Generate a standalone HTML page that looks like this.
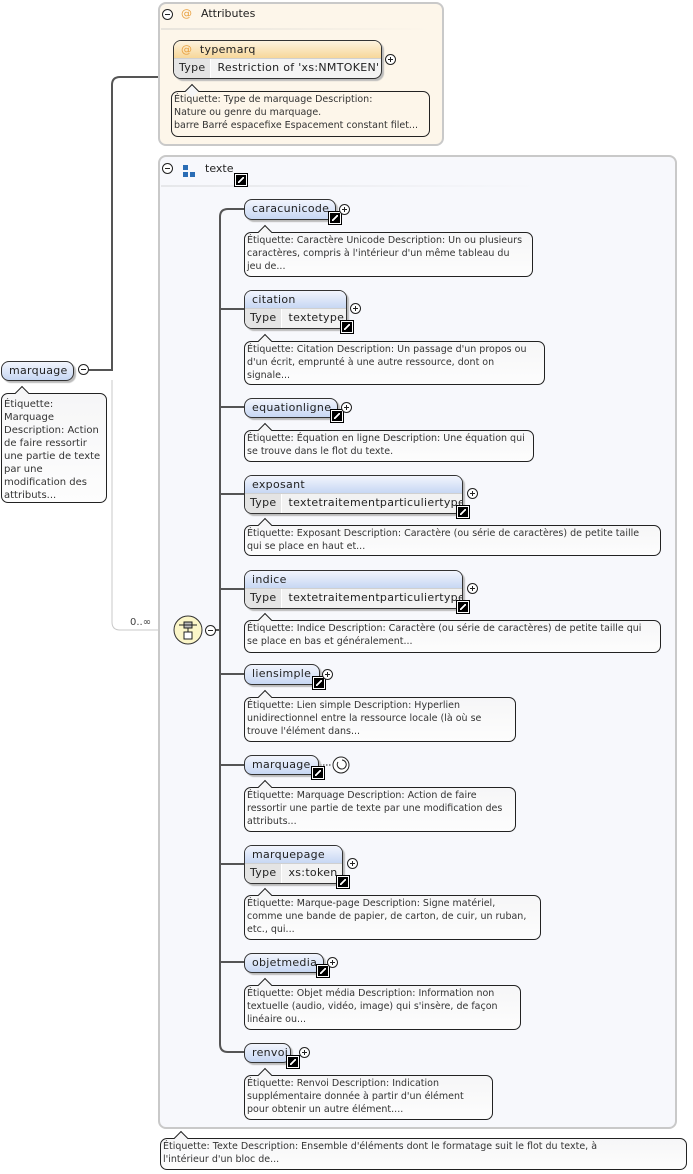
<!DOCTYPE html>
<html><head><meta charset="utf-8"><style>
*{box-sizing:border-box;margin:0;padding:0}
body{width:693px;height:1174px;background:#fff;position:relative;overflow:hidden;font-family:"DejaVu Sans","Liberation Sans",sans-serif;color:#222}
.a{position:absolute}
.box{position:absolute;border:2px solid #c9c9c9;border-radius:8px}
.n{position:absolute;border:1px solid #333;border-radius:8px;background:linear-gradient(#f2f5fd,#c7d7f3);font-size:11px;line-height:18px;padding-left:7px;box-shadow:2px 2px 1px #bbb;letter-spacing:0.3px}
.t{position:absolute;border:1px solid #333;border-radius:8px;background:#f2f2f2;font-size:11px;box-shadow:2px 2px 1px #bbb;overflow:hidden;letter-spacing:0.3px}
.t .h{height:18px;line-height:18px;padding-left:7px;background:linear-gradient(#f2f5fd,#c7d7f3);border-bottom:1px solid #d0d0d0}
.t .r{height:19px;line-height:18px;display:flex}
.t .r span:first-child{background:#e4e4e4;padding:0 5px;border-right:1px solid #fff}
.t .r span+span{padding-left:6px}
.an{position:absolute;border:1px solid #222;border-radius:7px;background:linear-gradient(#f6f6f7,#fdfdfd);font-size:9.5px;line-height:13px;padding:1px 2px;color:#333;white-space:nowrap}
.an:before{content:"";position:absolute;left:15px;top:-6px;width:9px;height:9px;background:#f6f6f7;border-left:1px solid #222;border-top:1px solid #222;transform:rotate(45deg)}
.p{position:absolute;width:11px;height:11px;border:1px solid #222;border-radius:50%;background:#fff}
.p:before{content:"";position:absolute;left:2px;top:4px;width:5px;height:1px;background:#222}
.p.pl:after{content:"";position:absolute;left:4px;top:2px;width:1px;height:5px;background:#222}
.lk{position:absolute;width:12px;height:12px;background:#000;border:1px solid #fff;outline:1px solid #000}
.lk:after{content:"";position:absolute;left:2px;top:2px;width:6px;height:6px;background:linear-gradient(135deg,transparent 40%,#fff 40%,#fff 60%,transparent 60%)}
</style></head><body>

<svg class="a" style="left:0;top:0" width="693" height="1174">
<path d="M89 370 H112 V85 Q112 77 120 77 H158" stroke="#555" stroke-width="2" fill="none"/>
<path d="M112 380 V622 Q112 630 120 630 H175" stroke="#c8c8c8" stroke-width="1" fill="none"/>
</svg>

<div class="box" style="left:158px;top:2px;width:286px;height:144px;background:#fdf6ea"></div>
<div class="a" style="left:161px;top:28px;width:270px;height:2px;background:linear-gradient(90deg,#e8e4dc,#fdf6ea)"></div>
<div class="p" style="left:162px;top:9px"></div>
<div class="a" style="left:181px;top:7px;font-size:11px;color:#e8a040">@</div>
<div class="a" style="left:201px;top:7px;font-size:11px">Attributes</div>
<div class="t" style="left:173px;top:40px;width:209px;height:39px;background:#f4f4f4">
<div class="h" style="background:linear-gradient(#fdf3df,#f7d79a)"><span style="color:#e8a040">@</span>&nbsp; typemarq</div>
<div class="r"><span>Type</span><span>Restriction of 'xs:NMTOKEN'</span></div></div>
<div class="p pl" style="left:385px;top:54px"></div>
<div class="an" style="left:171px;top:91px;width:259px;height:46px;background:#fdf6ea">Étiquette: Type de marquage Description:<br>Nature ou genre du marquage.<br>barre Barré espacefixe Espacement constant filet...</div>

<div class="box" style="left:158px;top:155px;width:519px;height:974px;background:#f7f8fc"></div>
<div class="a" style="left:161px;top:185px;width:380px;height:2px;background:linear-gradient(90deg,#e6e7ea,#f7f8fc)"></div>
<div class="p" style="left:162px;top:163px"></div>
<div class="a" style="left:183px;top:165px;width:5px;height:5px;background:#2a6db5"></div>
<div class="a" style="left:183px;top:172px;width:5px;height:5px;background:#2a6db5"></div>
<div class="a" style="left:190px;top:172px;width:5px;height:5px;background:#2a6db5"></div>
<div class="a" style="left:205px;top:162px;font-size:11px">texte</div>
<div class="lk" style="left:235px;top:174px"></div>

<svg class="a" style="left:0;top:0" width="693" height="1174">
<path d="M244 209 H228 Q220 209 220 217 V1044 Q220 1052 228 1052 H244" stroke="#555" stroke-width="2" fill="none"/>
<path d="M220 309 H244 M220 407 H244 M220 494 H244 M220 589 H244 M220 674 H244 M220 765 H244 M220 864 H244 M220 962 H244 M215 630 H220" stroke="#555" stroke-width="2" fill="none"/>
<circle cx="188" cy="630" r="14" fill="#fbf6c8" stroke="#333" stroke-width="1"/>
<rect x="184" y="622" width="8" height="6" fill="#bbb" stroke="#222"/>
<rect x="184" y="632" width="8" height="7" fill="#fff" stroke="#222"/>
<path d="M179 625 H197 M188 628 V632" stroke="#222"/>
<path d="M320 765 H332" stroke="#222" stroke-dasharray="1.5,1.5"/>
<circle cx="341" cy="765" r="8" fill="#fff" stroke="#222"/>
<path d="M338 762 A4.5 4.5 0 1 0 342 760" fill="none" stroke="#222"/>
</svg>
<div class="a" style="left:130px;top:617px;font-size:10px;color:#444">0..∞</div>
<div class="p" style="left:205px;top:625px"></div>

<div class="n" style="left:1px;top:361px;width:73px;height:20px">marquage</div>
<div class="p" style="left:78px;top:364px"></div>
<div class="an" style="left:1px;top:393px;width:106px;height:110px;font-size:10px;line-height:13px;padding-top:4px">Étiquette:<br>Marquage<br>Description: Action<br>de faire ressortir<br>une partie de texte<br>par une<br>modification des<br>attributs...</div>

<div class="n" style="left:244px;top:199px;width:92px;height:21px">caracunicode</div>
<div class="lk" style="left:329px;top:212px"></div><div class="p pl" style="left:339px;top:204px"></div>
<div class="an" style="left:244px;top:232px;width:289px;height:45px">Étiquette: Caractère Unicode Description: Un ou plusieurs<br>caractères, compris à l'intérieur d'un même tableau du<br>jeu de...</div>

<div class="t" style="left:244px;top:290px;width:103px;height:39px"><div class="h">citation</div><div class="r"><span>Type</span><span>textetype</span></div></div>
<div class="lk" style="left:341px;top:321px"></div><div class="p pl" style="left:350px;top:303px"></div>
<div class="an" style="left:244px;top:341px;width:301px;height:44px">Étiquette: Citation Description: Un passage d'un propos ou<br>d'un écrit, emprunté à une autre ressource, dont on<br>signale...</div>

<div class="n" style="left:244px;top:398px;width:94px;height:20px">equationligne</div>
<div class="lk" style="left:331px;top:410px"></div><div class="p pl" style="left:341px;top:402px"></div>
<div class="an" style="left:244px;top:430px;width:290px;height:32px">Étiquette: Équation en ligne Description: Une équation qui<br>se trouve dans le flot du texte.</div>

<div class="t" style="left:244px;top:475px;width:219px;height:39px"><div class="h">exposant</div><div class="r"><span>Type</span><span>textetraitementparticuliertype</span></div></div>
<div class="lk" style="left:457px;top:506px"></div><div class="p pl" style="left:467px;top:488px"></div>
<div class="an" style="left:244px;top:525px;width:417px;height:31px">Étiquette: Exposant Description: Caractère (ou série de caractères) de petite taille<br>qui se place en haut et...</div>

<div class="t" style="left:244px;top:570px;width:219px;height:39px"><div class="h">indice</div><div class="r"><span>Type</span><span>textetraitementparticuliertype</span></div></div>
<div class="lk" style="left:457px;top:601px"></div><div class="p pl" style="left:467px;top:583px"></div>
<div class="an" style="left:244px;top:620px;width:417px;height:33px">Étiquette: Indice Description: Caractère (ou série de caractères) de petite taille qui<br>se place en bas et généralement...</div>

<div class="n" style="left:244px;top:664px;width:76px;height:21px">liensimple</div>
<div class="lk" style="left:313px;top:677px"></div><div class="p pl" style="left:322px;top:669px"></div>
<div class="an" style="left:244px;top:697px;width:272px;height:45px">Étiquette: Lien simple Description: Hyperlien<br>unidirectionnel entre la ressource locale (là où se<br>trouve l'élément dans...</div>

<div class="n" style="left:244px;top:755px;width:75px;height:20px">marquage</div>
<div class="lk" style="left:312px;top:767px"></div>
<div class="an" style="left:244px;top:787px;width:272px;height:45px">Étiquette: Marquage Description: Action de faire<br>ressortir une partie de texte par une modification des<br>attributs...</div>

<div class="t" style="left:244px;top:845px;width:99px;height:39px"><div class="h">marquepage</div><div class="r"><span>Type</span><span>xs:token</span></div></div>
<div class="lk" style="left:337px;top:876px"></div><div class="p pl" style="left:347px;top:858px"></div>
<div class="an" style="left:244px;top:895px;width:297px;height:45px">Étiquette: Marque-page Description: Signe matériel,<br>comme une bande de papier, de carton, de cuir, un ruban,<br>etc., qui...</div>

<div class="n" style="left:244px;top:953px;width:80px;height:20px">objetmedia</div>
<div class="lk" style="left:317px;top:965px"></div><div class="p pl" style="left:327px;top:957px"></div>
<div class="an" style="left:244px;top:985px;width:277px;height:45px">Étiquette: Objet média Description: Information non<br>textuelle (audio, vidéo, image) qui s'insère, de façon<br>linéaire ou...</div>

<div class="n" style="left:244px;top:1043px;width:47px;height:20px">renvoi</div>
<div class="lk" style="left:287px;top:1056px"></div><div class="p pl" style="left:299px;top:1047px"></div>
<div class="an" style="left:244px;top:1075px;width:249px;height:45px">Étiquette: Renvoi Description: Indication<br>supplémentaire donnée à partir d'un élément<br>pour obtenir un autre élément....</div>

<div class="an" style="left:160px;top:1138px;width:527px;height:32px">Étiquette: Texte Description: Ensemble d'éléments dont le formatage suit le flot du texte, à<br>l'intérieur d'un bloc de...</div>
</body></html>
